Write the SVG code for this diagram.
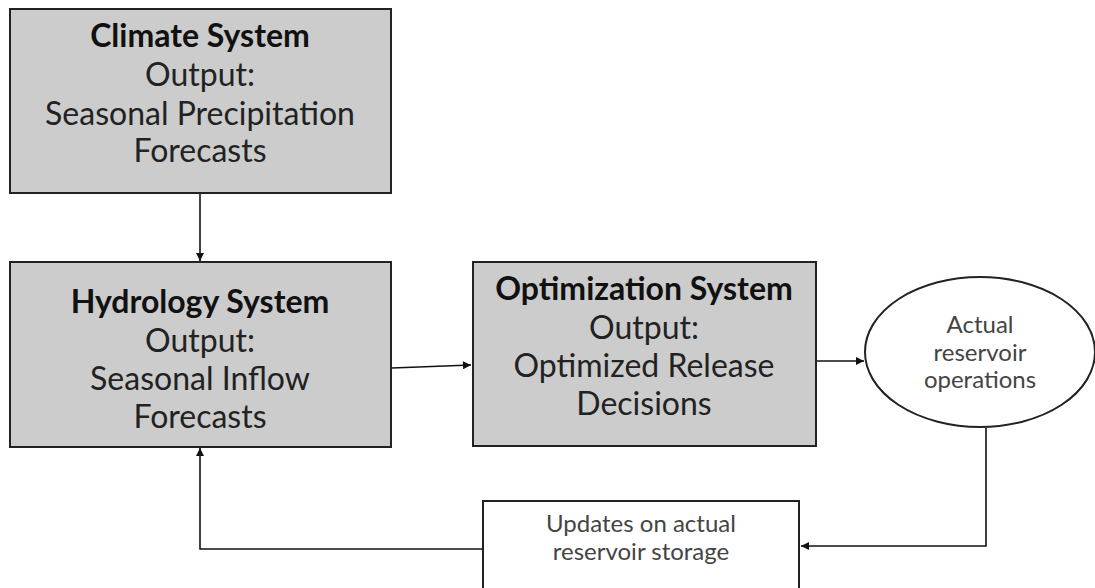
<svg xmlns="http://www.w3.org/2000/svg" width="1095" height="588" viewBox="0 0 1095 588">
<style>
.box{fill:#cccccc;stroke:#222;stroke-width:2}
.wbox{fill:#fff;stroke:#222;stroke-width:2}
.t{font-family:Lato,"Liberation Sans",sans-serif;font-size:32px;fill:#222;text-anchor:middle}
.b{font-weight:bold;fill:#111}
.s{font-family:Lato,"Liberation Sans",sans-serif;font-size:24px;fill:#444;text-anchor:middle}
.c{fill:none;stroke:#111;stroke-width:1.6}
</style>
<defs>
<marker id="ah" viewBox="0 0 10 10" refX="10" refY="5" markerWidth="9" markerHeight="8" markerUnits="userSpaceOnUse" orient="auto">
<path d="M0,0 L10,5 L0,10 z" fill="#111"/>
</marker>
</defs>
<rect width="1095" height="588" fill="#fff"/>
<g id="connectors">
<line class="c" x1="200" y1="193" x2="200" y2="261" marker-end="url(#ah)"/>
<line class="c" x1="392" y1="368" x2="471" y2="365" marker-end="url(#ah)"/>
<line class="c" x1="816" y1="361" x2="864" y2="361" marker-end="url(#ah)"/>
<polyline class="c" points="986,428 986,546 801,546" marker-end="url(#ah)"/>
<polyline class="c" points="483,549 200,549 200,448" marker-end="url(#ah)"/>
</g>
<g id="climate">
<rect class="box" x="10" y="9" width="381" height="184"/>
<text class="t b" x="200" y="47">Climate System</text>
<text class="t" x="200" y="86">Output:</text>
<text class="t" x="200" y="125">Seasonal Precipitation</text>
<text class="t" x="200" y="162">Forecasts</text>
</g>
<g id="hydrology">
<rect class="box" x="10" y="262" width="381" height="185"/>
<text class="t b" x="200" y="313">Hydrology System</text>
<text class="t" x="200" y="352">Output:</text>
<text class="t" x="200" y="390">Seasonal Inflow</text>
<text class="t" x="200" y="428">Forecasts</text>
</g>
<g id="optimization">
<rect class="box" x="473" y="262" width="343" height="184"/>
<text class="t b" x="644" y="300">Optimization System</text>
<text class="t" x="644" y="339">Output:</text>
<text class="t" x="644" y="377">Optimized Release</text>
<text class="t" x="644" y="415">Decisions</text>
</g>
<g id="operations">
<ellipse class="wbox" cx="980" cy="352" rx="115" ry="75"/>
<text class="s" x="980" y="333">Actual</text>
<text class="s" x="980" y="361">reservoir</text>
<text class="s" x="980" y="388">operations</text>
</g>
<g id="updates">
<rect class="wbox" x="483" y="501" width="316" height="100"/>
<text class="s" x="641" y="532">Updates on actual</text>
<text class="s" x="641" y="560">reservoir storage</text>
</g>
</svg>
